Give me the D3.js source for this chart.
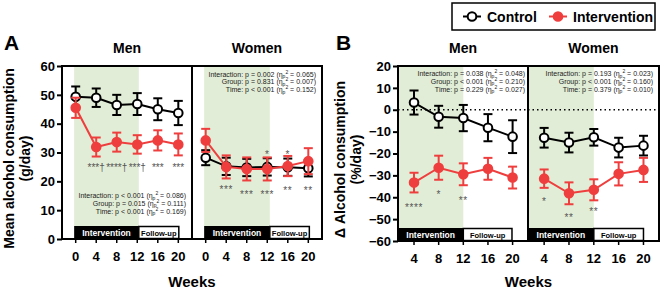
<!DOCTYPE html>
<html>
<head>
<meta charset="utf-8">
<script src="https://cdn.jsdelivr.net/npm/d3@7"></script>
<style>
  body { margin: 0; background: #fff; }
  svg { display: block; font-family: Arial, "Liberation Sans", sans-serif; }
</style>
</head>
<body>
<svg id="chart" width="661" height="289"></svg>
<script>
// data
const weeksA = [0, 4, 8, 12, 16, 20];
const weeksB = [4, 8, 12, 16, 20];

const aMenControl = [49.3, 49.0, 46.5, 46.8, 45.0, 43.7];
const aMenControlErr = [3.6, 3.2, 3.5, 3.8, 3.8, 4.2];
const aMenInterv = [45.5, 31.9, 33.6, 32.8, 34.2, 32.8];
const aMenIntervErr = [3.5, 3.3, 3.3, 3.2, 3.5, 3.8];

const aWomenControl = [28.2, 25.2, 24.8, 25.0, 24.9, 24.5];
const aWomenControlErr = [2.6, 3.0, 3.0, 3.0, 3.0, 2.8];
const aWomenInterv = [34.2, 25.0, 24.3, 24.3, 25.3, 27.0];
const aWomenIntervErr = [4.0, 4.0, 4.0, 4.0, 3.5, 4.5];

const bMenControl = [3.3, -3.2, -3.8, -8.2, -12.3];
const bMenControlErr = [5.5, 5.0, 6.0, 6.2, 7.5];
const bMenInterv = [-33.3, -26.5, -29.5, -27.0, -31.0];
const bMenIntervErr = [4.5, 5.5, 5.0, 5.0, 5.0];

const bWomenControl = [-12.8, -15.0, -12.6, -17.3, -16.4];
const bWomenControlErr = [4.5, 4.5, 3.8, 4.5, 4.5];
const bWomenInterv = [-31.5, -38.2, -36.6, -29.3, -27.5];
const bWomenIntervErr = [4.2, 5.0, 4.8, 5.3, 5.5];

const yTicksA = [0, 10, 20, 30, 40, 50, 60];
const yTicksB = [-60, -50, -40, -30, -20, -10, 0, 10, 20];

// significance marks: week, label, value where the mark sits
const aMenStars = [[4, "***†", 25.7], [8, "****†", 25.7], [12, "***†", 25.7], [16, "***", 25.7], [20, "***", 25.7]];
const aWomenStars = [[4, "***", 18.2], [8, "***", 16.4], [12, "***", 16.4], [16, "**", 17.7], [20, "**", 17.7], [12, "*", 30.2], [16, "*", 30.2]];
const bMenStars = [[4, "****", -43.5], [8, "*", -37.5], [12, "**", -40.5]];
const bWomenStars = [[4, "*", -40.8], [8, "**", -48], [12, "**", -45.5]];

const statsAMen = ["Interaction: p < 0.001 (η", "0.086", "Group: p = 0.015 (η", "0.111", "Time: p < 0.001 (η", "0.169"];
const statsAWomen = ["Interaction: p = 0.002 (η", "0.065", "Group: p = 0.831 (η", "0.007", "Time: p < 0.001 (η", "0.152"];
const statsBMen = ["Interaction: p = 0.038 (η", "0.048", "Group: p < 0.001 (η", "0.210", "Time: p = 0.229 (η", "0.027"];
const statsBWomen = ["Interaction: p = 0.193 (η", "0.023", "Group: p < 0.001 (η", "0.160", "Time: p = 0.379 (η", "0.010"];

const RED = "#ef3e3e";
const GREEN = "#e1edd6";

const svg = d3.select("#chart");

// one sub panel (men or women) of a figure
function drawPanel(opt) {
  const x = opt.x, y = opt.y;
  const g = svg.append("g");

  // shaded intervention period
  g.append("rect")
    .attr("x", x(opt.shadeFrom))
    .attr("y", y.range()[1])
    .attr("width", x(opt.shadeTo) - x(opt.shadeFrom))
    .attr("height", y.range()[0] - y.range()[1])
    .attr("fill", GREEN);

  // intervention / follow-up bar
  const barTop = y.range()[0] - 13;
  g.append("rect")
    .attr("x", x(opt.shadeFrom)).attr("y", barTop)
    .attr("width", x(opt.barSplit) - x(opt.shadeFrom)).attr("height", 13)
    .attr("fill", "#000");
  g.append("rect")
    .attr("x", x(opt.barSplit)).attr("y", barTop + 0.5)
    .attr("width", x(opt.barEnd) - x(opt.barSplit)).attr("height", 12)
    .attr("fill", "#fff").attr("stroke", "#000").attr("stroke-width", 1.5);
  g.append("text")
    .attr("x", (x(opt.shadeFrom) + x(opt.barSplit)) / 2).attr("y", barTop + 9.5)
    .attr("text-anchor", "middle").attr("fill", "#fff")
    .attr("font-size", "8.5px").attr("font-weight", "bold")
    .text("Intervention");
  g.append("text")
    .attr("x", (x(opt.barSplit) + x(opt.barEnd)) / 2).attr("y", barTop + 9.5)
    .attr("text-anchor", "middle").attr("fill", "#000")
    .attr("font-size", "7.5px").attr("font-weight", "bold")
    .text("Follow-up");

  if (opt.zeroLine) {
    g.append("line")
      .attr("x1", x.range()[0]).attr("x2", x.range()[1])
      .attr("y1", y(0)).attr("y2", y(0))
      .attr("stroke", "#000").attr("stroke-width", 1.5)
      .attr("stroke-dasharray", "1.5,3");
  }

  // stats text
  const st = g.append("text")
    .attr("font-size", "7px").attr("fill", "#222")
    .attr("text-anchor", "end");
  for (let i = 0; i < 3; i++) {
    st.append("tspan")
      .attr("x", opt.statsX).attr("y", opt.statsY + i * 7.8)
      .text(opt.stats[i * 2]);
    st.append("tspan").attr("font-size", "5px").attr("dy", 1.5).text("p");
    st.append("tspan").attr("font-size", "5px").attr("dy", -4.5).text("2");
    st.append("tspan").attr("dy", 3).text(" = " + opt.stats[i * 2 + 1] + ")");
  }

  // series
  function series(vals, errs, weeks, color, fill) {
    const line = d3.line().x((d, i) => x(weeks[i])).y(d => y(d));
    g.append("path").datum(vals)
      .attr("d", line).attr("fill", "none")
      .attr("stroke", color).attr("stroke-width", 2);
    const eb = g.append("g").attr("stroke", color).attr("stroke-width", 2);
    vals.forEach((v, i) => {
      const cx = x(weeks[i]);
      eb.append("line").attr("x1", cx).attr("x2", cx)
        .attr("y1", y(v - errs[i])).attr("y2", y(v + errs[i]));
      [v - errs[i], v + errs[i]].forEach(e => {
        eb.append("line").attr("x1", cx - 4.5).attr("x2", cx + 4.5)
          .attr("y1", y(e)).attr("y2", y(e));
      });
    });
    g.selectAll(null).data(vals).join("circle")
      .attr("cx", (d, i) => x(weeks[i])).attr("cy", d => y(d))
      .attr("r", 4.3)
      .attr("fill", fill).attr("stroke", color).attr("stroke-width", 2);
  }
  series(opt.control, opt.controlErr, opt.weeks, "#000", "#fff");
  series(opt.interv, opt.intervErr, opt.weeks, RED, RED);

  // stars
  g.selectAll(null).data(opt.stars).join("text")
    .attr("x", d => x(d[0])).attr("y", d => y(d[2]) + 6)
    .attr("text-anchor", "middle")
    .attr("font-size", "10px").attr("fill", "#555")
    .attr("letter-spacing", opt.starSpacing || "0.6px")
    .text(d => d[1]);

  // x axis labels
  g.selectAll(null).data(opt.xTicks).join("text")
    .attr("x", d => x(d)).attr("y", y.range()[0] + 22)
    .attr("text-anchor", "middle")
    .attr("font-size", "13px").attr("font-weight", "bold")
    .text(d => d);
  g.selectAll(null).data(opt.xTicks).join("line")
    .attr("x1", d => x(d)).attr("x2", d => x(d))
    .attr("y1", y.range()[0]).attr("y2", y.range()[0] + 4)
    .attr("stroke", "#000").attr("stroke-width", 1.5);

  // title
  g.append("text")
    .attr("x", (x.range()[0] + x.range()[1]) / 2).attr("y", 53)
    .attr("text-anchor", "middle")
    .attr("font-size", "14px").attr("font-weight", "bold")
    .text(opt.title);
}

function drawFigure(f) {
  const y = f.y;
  drawPanel(Object.assign({}, f.men, { y: y }));
  drawPanel(Object.assign({}, f.women, { y: y }));

  const left = f.men.x.range()[0], right = f.women.x.range()[1], mid = f.men.x.range()[1];
  svg.append("rect")
    .attr("x", left).attr("y", y.range()[1])
    .attr("width", right - left).attr("height", y.range()[0] - y.range()[1])
    .attr("fill", "none").attr("stroke", "#000").attr("stroke-width", 2);
  svg.append("line")
    .attr("x1", mid).attr("x2", mid)
    .attr("y1", y.range()[1]).attr("y2", y.range()[0])
    .attr("stroke", "#000").attr("stroke-width", 2);

  // y axis
  const ax = svg.append("g")
    .attr("transform", `translate(${left},0)`)
    .call(d3.axisLeft(y).tickValues(f.yTicks).tickSize(5).tickSizeOuter(0));
  ax.select(".domain").remove();
  ax.selectAll("line").attr("stroke-width", 2);
  ax.selectAll("text")
    .attr("font-size", "13px").attr("font-weight", "bold")
    .attr("font-family", "Arial, 'Liberation Sans', sans-serif")
    .attr("fill", "#000").attr("x", -7);

  // y title
  const cy = (y.range()[0] + y.range()[1]) / 2 + 6;
  f.yTitle.forEach((t, i) => {
    svg.append("text")
      .attr("transform", `translate(${f.yTitleX + i * 16},${cy}) rotate(-90)`)
      .attr("text-anchor", "middle")
      .attr("font-size", "14px").attr("font-weight", "bold")
      .text(t);
  });

  svg.append("text")
    .attr("x", (left + right) / 2).attr("y", 287)
    .attr("text-anchor", "middle")
    .attr("font-size", "15px").attr("font-weight", "bold")
    .text("Weeks");

  svg.append("text")
    .attr("x", f.letterX).attr("y", 50)
    .attr("font-size", "21px").attr("font-weight", "bold")
    .text(f.letter);
}

// panel A
drawFigure({
  letter: "A", letterX: 4,
  y: d3.scaleLinear().domain([0, 60]).range([239, 66]),
  yTicks: yTicksA,
  yTitle: ["Mean alcohol consumption", "(g/day)"], yTitleX: 14,
  men: {
    title: "Men",
    x: d3.scaleLinear().domain([-2.67, 22.67]).range([62, 192]),
    weeks: weeksA, xTicks: weeksA,
    control: aMenControl, controlErr: aMenControlErr,
    interv: aMenInterv, intervErr: aMenIntervErr,
    stars: aMenStars, starSpacing: "0px",
    shadeFrom: -0.3, shadeTo: 12.3, barSplit: 12.3, barEnd: 20.1,
    stats: statsAMen, statsX: 186, statsY: 198
  },
  women: {
    title: "Women",
    x: d3.scaleLinear().domain([-2.67, 22.67]).range([192, 322]),
    weeks: weeksA, xTicks: weeksA,
    control: aWomenControl, controlErr: aWomenControlErr,
    interv: aWomenInterv, intervErr: aWomenIntervErr,
    stars: aWomenStars,
    shadeFrom: -0.3, shadeTo: 12.5, barSplit: 12.5, barEnd: 20.2,
    stats: statsAWomen, statsX: 316, statsY: 76.5
  }
});

// panel B
drawFigure({
  letter: "B", letterX: 336,
  y: d3.scaleLinear().domain([-60, 20]).range([241, 66]),
  yTicks: yTicksB,
  yTitle: ["Δ Alcohol consumption", "(%/day)"], yTitleX: 345,
  men: {
    title: "Men",
    x: d3.scaleLinear().domain([1.4, 22.5]).range([398, 528]),
    weeks: weeksB, xTicks: weeksB, zeroLine: true,
    control: bMenControl, controlErr: bMenControlErr,
    interv: bMenInterv, intervErr: bMenIntervErr,
    stars: bMenStars,
    shadeFrom: 1.4, shadeTo: 12, barSplit: 12, barEnd: 19.9,
    stats: statsBMen, statsX: 525, statsY: 76
  },
  women: {
    title: "Women",
    x: d3.scaleLinear().domain([1.4, 22.5]).range([528, 659]),
    weeks: weeksB, xTicks: weeksB, zeroLine: true,
    control: bWomenControl, controlErr: bWomenControlErr,
    interv: bWomenInterv, intervErr: bWomenIntervErr,
    stars: bWomenStars,
    shadeFrom: 1.4, shadeTo: 12, barSplit: 12, barEnd: 20,
    stats: statsBWomen, statsX: 653, statsY: 76
  }
});

// legend
const lg = svg.append("g");
lg.append("rect").attr("x", 452).attr("y", 3).attr("width", 203).attr("height", 27)
  .attr("fill", "#fff").attr("stroke", "#000").attr("stroke-width", 1.5);
[["Control", "#000", "#fff", 463], ["Intervention", RED, RED, 549]].forEach(d => {
  lg.append("line").attr("x1", d[3]).attr("x2", d[3] + 18).attr("y1", 16.5).attr("y2", 16.5)
    .attr("stroke", d[1]).attr("stroke-width", 2);
  lg.append("circle").attr("cx", d[3] + 9).attr("cy", 16.5).attr("r", 4.3)
    .attr("fill", d[2]).attr("stroke", d[1]).attr("stroke-width", 2);
  lg.append("text").attr("x", d[3] + 24).attr("y", 21.5)
    .attr("font-size", "14px").attr("font-weight", "bold").text(d[0]);
});
</script>
</body>
</html>
